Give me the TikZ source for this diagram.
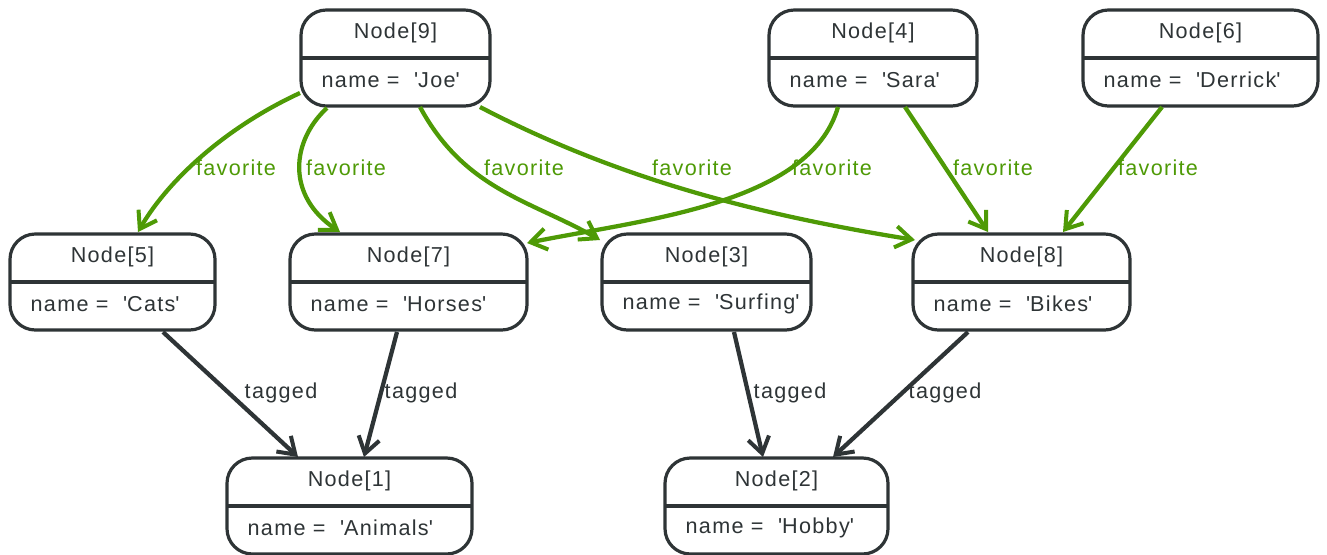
\documentclass[tikz,border=0pt]{standalone}
\usepackage{fontspec}
\setmainfont{Liberation Sans}[LetterSpace=6]
\usetikzlibrary{arrows.meta}
\definecolor{dk}{HTML}{2E3436}
\definecolor{gr}{HTML}{4E9A06}
\newcommand{\qq}{\textquotesingle}
\newcommand{\umlnode}[6]{%
  \node[box, minimum width=#4*0.75pt] (#1) at (#2,#3) {};
  \draw[dk, line width=2.4pt] ([xshift=0.9pt]#1.west) -- ([xshift=-0.9pt]#1.east);
  \node[txt] (#1t) at ([shift={(0,-25)}]#1.center) {#5};
  \node[txt, anchor=west] (#1v) at ([shift={(22,22)}]#1.west) {#6};
}
\begin{document}
\begin{tikzpicture}[x=0.75pt,y=-0.75pt,
  box/.style={draw=dk, line width=2.4pt, rounded corners=19pt, minimum height=72pt, inner sep=0pt, fill=white},
  txt/.style={text=dk, font=\fontsize{16.2}{18}\selectfont, inner sep=0pt},
  fav/.style={draw=gr, line width=3.2pt, -{Straight Barb[length=12pt,width=16pt,line width=3pt]}},
  tag/.style={draw=dk, line width=3.2pt, -{Straight Barb[length=12pt,width=16pt,line width=3pt]}},
  favl/.style={text=gr, font=\fontsize{16.2}{18}\selectfont, inner sep=0pt},
  tagl/.style={text=dk, font=\fontsize{16.2}{18}\selectfont, inner sep=0pt}]
\useasboundingbox (0,0) rectangle (1327,554);

\umlnode{n9}{395.5}{58}{189}{Node[9]}{name = \ \qq Joe\qq}
\umlnode{n4}{873}{58}{208}{Node[4]}{name = \ \qq Sara\qq}
\umlnode{n6}{1200.5}{58}{235}{Node[6]}{name = \ \qq Derrick\qq}
\umlnode{n5}{112.5}{282}{205}{Node[5]}{name = \ \qq Cats\qq}
\umlnode{n7}{408.5}{282}{237}{Node[7]}{name = \ \qq Horses\qq}
\umlnode{n3}{706.5}{282}{209}{Node[3]}{name = \ \qq Surfing\qq}
\umlnode{n8}{1021.5}{282}{217}{Node[8]}{name = \ \qq Bikes\qq}
\umlnode{n1}{349.5}{506}{245}{Node[1]}{name = \ \qq Animals\qq}
\umlnode{n2}{776.5}{506}{223}{Node[2]}{name = \ \qq Hobby\qq}

% favorite edges
\draw[fav] ([shift={(-95.5,35)}]n9.center) .. controls (220,130) and (165,185) .. ([shift={(25.5,-50)}]n5.center);
\draw[fav] ([shift={(-68.5,50)}]n9.center) .. controls (292,140) and (285,195) .. ([shift={(-68.5,-50)}]n7.center);
\draw[fav] ([shift={(24.5,49)}]n9.center) .. controls (465,190) and (530,200) .. ([shift={(-106.5,-42)}]n3.center);
\draw[fav] ([shift={(84.5,49)}]n9.center) .. controls (620,180) and (760,215) .. ([shift={(-106.5,-42)}]n8.center);
\draw[fav] ([shift={(-35,49)}]n4.center) .. controls (810,205) and (640,220) .. ([shift={(118.5,-39)}]n7.center);
\draw[fav] ([shift={(32,49)}]n4.center) -- ([shift={(-33.5,-50)}]n8.center);
\draw[fav] ([shift={(-38.5,49)}]n6.center) -- ([shift={(41.5,-50)}]n8.center);

\node[favl] (l1) at (236,168) {favorite};
\node[favl] (l2) at (346,168) {favorite};
\node[favl] (l3) at (524,168) {favorite};
\node[favl] (l4) at (692,168) {favorite};
\node[favl] (l5) at (832,168) {favorite};
\node[favl] (l6) at (993,168) {favorite};
\node[favl] (l7) at (1158,168) {favorite};

% tagged edges
\draw[tag] ([shift={(50.5,50)}]n5.center) -- ([shift={(-51.5,-49)}]n1.center);
\draw[tag] ([shift={(-11.5,50)}]n7.center) -- ([shift={(14.5,-49)}]n1.center);
\draw[tag] ([shift={(27.5,50)}]n3.center) -- ([shift={(-13.5,-49)}]n2.center);
\draw[tag] ([shift={(-53.5,50)}]n8.center) -- ([shift={(56.5,-49)}]n2.center);

\node[tagl] (k1) at (281,393) {tagged};
\node[tagl] (k2) at (421,393) {tagged};
\node[tagl] (k3) at (790,393) {tagged};
\node[tagl] (k4) at (945,393) {tagged};
\end{tikzpicture}
\end{document}
